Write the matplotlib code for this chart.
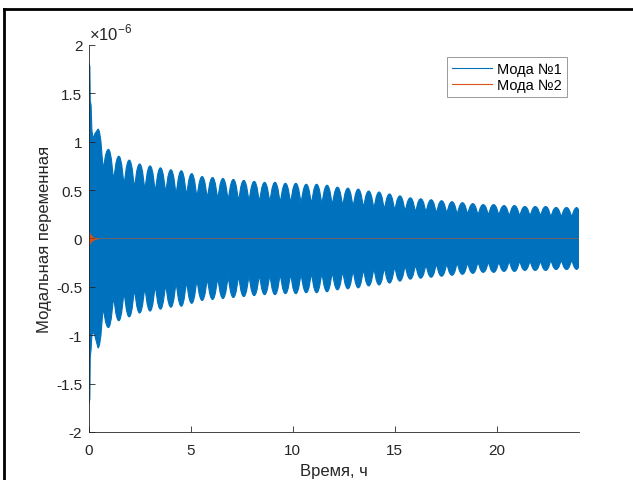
import matplotlib
matplotlib.use('Agg')
import matplotlib.pyplot as plt
from matplotlib.lines import Line2D
from matplotlib.path import Path
from matplotlib.patches import PathPatch

plt.rcParams['font.family'] = ['Liberation Sans', 'DejaVu Sans']
plt.rcParams['axes.unicode_minus'] = False

# mode 1 envelope, values in units of 1e-6
start_t = [0.0, 0.06, 0.08, 0.12, 0.16, 0.22, 0.30]
start_up = [1.82, 1.78, 1.42, 1.38, 1.12, 1.03, 1.08]
start_lo = [-1.72, -1.66, -1.22, -1.15, -1.00, -0.97, -1.00]

peak_t = [0.46, 0.97, 1.48, 1.99, 2.50, 3.01, 3.52, 4.03, 4.54, 5.05,
          5.56, 6.07, 6.58, 7.09, 7.60, 8.11, 8.62, 9.13, 9.64, 10.15,
          10.66, 11.17, 11.68, 12.19, 12.70, 13.21, 13.72, 14.23, 14.74, 15.25,
          15.76, 16.27, 16.78, 17.29, 17.80, 18.31, 18.82, 19.33, 19.84, 20.35,
          20.86, 21.37, 21.88, 22.39, 22.90, 23.41, 23.92]
peak_amp = [1.13, 0.92, 0.85, 0.81, 0.77, 0.75, 0.73, 0.71, 0.70, 0.67,
            0.64, 0.63, 0.62, 0.61, 0.60, 0.59, 0.58, 0.58, 0.57, 0.57,
            0.56, 0.56, 0.55, 0.53, 0.52, 0.51, 0.49, 0.48, 0.46, 0.44,
            0.42, 0.41, 0.40, 0.39, 0.38, 0.37, 0.36, 0.35, 0.35, 0.34,
            0.34, 0.33, 0.33, 0.33, 0.32, 0.32, 0.32]
trough_amp = [0.73, 0.62, 0.57, 0.54, 0.52, 0.50, 0.49, 0.47, 0.46, 0.44,
              0.43, 0.42, 0.41, 0.40, 0.40, 0.39, 0.39, 0.38, 0.38, 0.38,
              0.37, 0.37, 0.36, 0.35, 0.34, 0.33, 0.32, 0.31, 0.30, 0.29,
              0.28, 0.28, 0.27, 0.27, 0.26, 0.26, 0.25, 0.25, 0.25, 0.24,
              0.24, 0.24, 0.24, 0.23, 0.23, 0.23]
end_t = 24.0
end_amp = 0.30

# mode 2 (small decaying bump at start)
mode2_t = [0.0, 0.05, 0.10, 0.20, 0.35, 0.50, 24.0]
mode2_amp = [0.08, 0.06, 0.04, 0.02, 0.008, 0.0, 0.0]

yticks = [-2, -1.5, -1, -0.5, 0, 0.5, 1, 1.5, 2]
ytick_labels = ['-2', '-1.5', '-1', '-0.5', '0', '0.5', '1', '1.5', '2']
xticks = [0, 5, 10, 15, 20]

blue = '#0072BD'
orange = '#D95319'


def scallop_path(sign):
    # alternate peak / trough points of the beat envelope
    pts = []
    for i, t in enumerate(peak_t):
        pts.append((t, sign * peak_amp[i], True))
        if i < len(trough_amp):
            pts.append(((t + peak_t[i + 1]) / 2, sign * trough_amp[i], False))
    verts, codes = [], []
    for (t0, a0, pk), (t1, a1, _) in zip(pts[:-1], pts[1:]):
        dt = t1 - t0
        kp, kt = 0.6, 0.12
        if pk:
            c1, c2 = (t0 + kp * dt, a0), (t1 - kt * dt, a1)
        else:
            c1, c2 = (t0 + kt * dt, a0), (t1 - kp * dt, a1)
        verts += [c1, c2, (t1, a1)]
        codes += [Path.CURVE4] * 3
    return pts[0][:2], verts, codes


def main():
    # polygon: up the left side, along upper edge, down the right, back along lower edge
    first_up, v_up, c_up = scallop_path(1)
    verts = [(start_t[0], start_lo[0])]
    codes = [Path.MOVETO]
    for t, a in zip(start_t, start_up):
        verts.append((t, a))
        codes.append(Path.LINETO)
    verts.append(first_up)
    codes.append(Path.LINETO)
    verts += v_up
    codes += c_up
    verts += [(end_t, end_amp), (end_t, -end_amp)]
    codes += [Path.LINETO, Path.LINETO]

    first_lo, v_lo, c_lo = scallop_path(-1)
    # walk lower edge backwards
    lo_pts = [first_lo] + [v_lo[i] for i in range(2, len(v_lo), 3)]
    verts.append(lo_pts[-1])
    codes.append(Path.LINETO)
    for k in range(len(lo_pts) - 1, 0, -1):
        c1 = v_lo[3 * (k - 1)]
        c2 = v_lo[3 * (k - 1) + 1]
        verts += [c2, c1, lo_pts[k - 1]]
        codes += [Path.CURVE4] * 3
    for t, a in zip(start_t[::-1], start_lo[::-1]):
        verts.append((t, a))
        codes.append(Path.LINETO)
    verts.append((start_t[0], start_lo[0]))
    codes.append(Path.CLOSEPOLY)

    fig = plt.figure(figsize=(6.33, 4.81), dpi=100)
    ax = fig.add_axes([0.140, 0.0998, 0.774, 0.8046])

    ax.add_patch(PathPatch(Path(verts, codes), facecolor=blue, edgecolor=blue,
                           lw=0.8, joinstyle='round'))

    m2a = [-a for a in mode2_amp]
    ax.fill_between(mode2_t, m2a, mode2_amp, color=orange, lw=0)
    ax.plot([mode2_t[0], mode2_t[-1]], [0, 0], color=orange, lw=0.5, alpha=0.75)

    ax.set_xlim(0, 24)
    ax.set_ylim(-2, 2)
    ax.set_xticks(xticks)
    ax.set_xticklabels([str(x) for x in xticks])
    ax.set_yticks(yticks)
    ax.set_yticklabels(ytick_labels)
    ax.tick_params(direction='in', length=4, width=0.6, colors='#262626',
                   labelsize=11)
    ax.tick_params(axis='y', pad=4.5)
    ax.tick_params(axis='x', pad=8)
    for s in ['top', 'right']:
        ax.spines[s].set_visible(False)
    for s in ['left', 'bottom']:
        ax.spines[s].set_color('#262626')
        ax.spines[s].set_linewidth(0.6)

    ax.set_xlabel('Время, ч', fontsize=12, color='#262626', labelpad=4)
    ax.set_ylabel('Модальная переменная', fontsize=12, color='#262626', labelpad=3)
    ax.text(0.0, 1.006, '×10$^{\\mathregular{-6}}$', transform=ax.transAxes,
            fontsize=12, color='#262626', ha='left', va='bottom')

    handles = [Line2D([], [], color=blue, lw=0.8),
               Line2D([], [], color=orange, lw=0.8)]
    leg = ax.legend(handles, ['Мода №1', 'Мода №2'], loc='upper right',
                    bbox_to_anchor=(0.977, 0.97), borderaxespad=0, fontsize=10.5,
                    frameon=True, fancybox=False, handlelength=2.7, borderpad=0.35,
                    labelspacing=0.15, handletextpad=0.4)
    leg.get_frame().set_edgecolor('#808080')
    leg.get_frame().set_linewidth(0.7)

    # screenshot frame (top and left edges)
    fig.add_artist(Line2D([0.006, 1.0], [0.979, 0.979], transform=fig.transFigure,
                          color='black', lw=2))
    fig.add_artist(Line2D([0.006, 0.006], [0.0, 0.979], transform=fig.transFigure,
                          color='black', lw=2))

    fig.savefig('out.png', dpi=100)


if __name__ == "__main__":
    main()
